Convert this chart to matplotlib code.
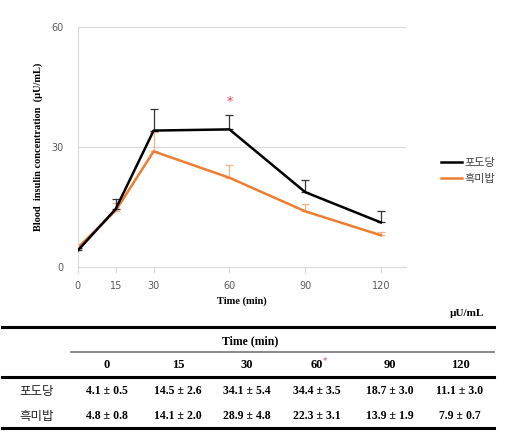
import matplotlib.pyplot as plt
from matplotlib.lines import Line2D

plt.rcParams['font.family'] = ['Liberation Serif', 'Noto Sans CJK KR', 'DejaVu Sans']

# -----------------------------
# Data
# -----------------------------
times = [0, 15, 30, 60, 90, 120]
glucose_mean = [4.1, 14.5, 34.1, 34.4, 18.7, 11.1]
glucose_sd = [0.5, 2.6, 5.4, 3.5, 3.0, 3.0]
rice_mean = [4.8, 14.1, 28.9, 22.3, 13.9, 7.9]
rice_sd = [0.8, 2.0, 4.8, 3.1, 1.9, 0.7]
series_names = ["포도당", "흑미밥"]
time_labels = ["0", "15", "30", "60", "90", "120"]
yticks = [0, 30, 60]

fig = plt.figure(figsize=(5.09, 4.44), dpi=100)

# -----------------------------
# Line chart
# -----------------------------
ax = fig.add_axes([0.153, 0.399, 0.645, 0.540])
ax.errorbar(times, glucose_mean, yerr=[[0] * 6, glucose_sd], color="black", lw=1.8,
            ecolor="#333333", elinewidth=0.9, capsize=3, capthick=0.9, zorder=3)
ax.errorbar(times, rice_mean, yerr=[[0] * 6, rice_sd], color="#ED7D31", lw=1.8,
            ecolor="#F4B183", elinewidth=0.9, capsize=3, capthick=0.9, zorder=2)
ax.text(60, 41.5, "*", color="#E8395A", ha="center", va="center", fontsize=9,
        family="DejaVu Sans")

ax.set_xlim(0, 130)
ax.set_ylim(0, 60)
ax.set_xticks(times)
ax.set_xticklabels(time_labels, family="DejaVu Sans")
ax.set_yticks(yticks)
ax.set_yticklabels([str(v) for v in yticks], family="DejaVu Sans")
ax.tick_params(axis="both", labelsize=7, colors="#595959")
ax.tick_params(axis="y", length=0, pad=10)
ax.tick_params(axis="x", length=4, color="#D9D9D9", pad=6)
ax.grid(axis="y", color="#D9D9D9", lw=0.8)
for side in ["top", "right"]:
    ax.spines[side].set_visible(False)
ax.spines["left"].set_color("#D9D9D9")
ax.spines["bottom"].set_color("#D9D9D9")
ax.set_xlabel("Time (min)", fontsize=7.5, fontweight="bold", labelpad=4)
ax.set_ylabel("Blood  insulin concentration  (µU/mL)", fontsize=7.5,
              fontweight="bold", labelpad=6)

handles = [Line2D([], [], color="black", lw=1.8),
           Line2D([], [], color="#ED7D31", lw=1.8)]
leg = ax.legend(handles, series_names, loc="center left", bbox_to_anchor=(1.075, 0.40),
                frameon=False, prop={"family": ["Noto Sans CJK KR"], "size": 8},
                handlelength=1.9, handletextpad=0.2, labelspacing=0.6)
for t in leg.get_texts():
    t.set_color("#404040")

# -----------------------------
# Table below
# -----------------------------
def fx(px):
    return px / 509


def fy(py):
    return 1 - py / 444


col_x = [107, 178, 247, 317, 390, 460]
fig.text(fx(467), fy(313), "µU/mL", ha="center", va="center", fontsize=8, fontweight="bold")
fig.add_artist(Line2D([fx(2), fx(494)], [fy(327), fy(327)], color="black", lw=2.2))
fig.text(fx(250), fy(341), "Time (min)", ha="center", va="center", fontsize=8.5, fontweight="bold")
fig.add_artist(Line2D([fx(71), fx(494)], [fy(352), fy(352)], color="#808080", lw=1.3))
for x, lab in zip(col_x, time_labels):
    fig.text(fx(x), fy(365), lab, ha="center", va="center", fontsize=9, fontweight="bold")
fig.text(fx(col_x[3]) + 0.011, fy(361), "*", color="#E8395A", ha="left", va="center",
         fontsize=6, family="DejaVu Sans")
fig.add_artist(Line2D([fx(2), fx(494)], [fy(377), fy(377)], color="black", lw=2.2))

rows = [(series_names[0], glucose_mean, glucose_sd, 391),
        (series_names[1], rice_mean, rice_sd, 416)]
for name, means, sds, y in rows:
    fig.text(fx(37), fy(y), name, ha="center", va="center", fontsize=9,
             family=["Noto Sans CJK KR"], color="#222222")
    for x, m, s in zip(col_x, means, sds):
        fig.text(fx(x), fy(y), f"{m:.1f} ± {s:.1f}", ha="center", va="center",
                 fontsize=8.5, fontweight="bold")
fig.add_artist(Line2D([fx(2), fx(494)], [fy(428), fy(428)], color="black", lw=2.2))

plt.savefig("out.png", dpi=100)
plt.close()
